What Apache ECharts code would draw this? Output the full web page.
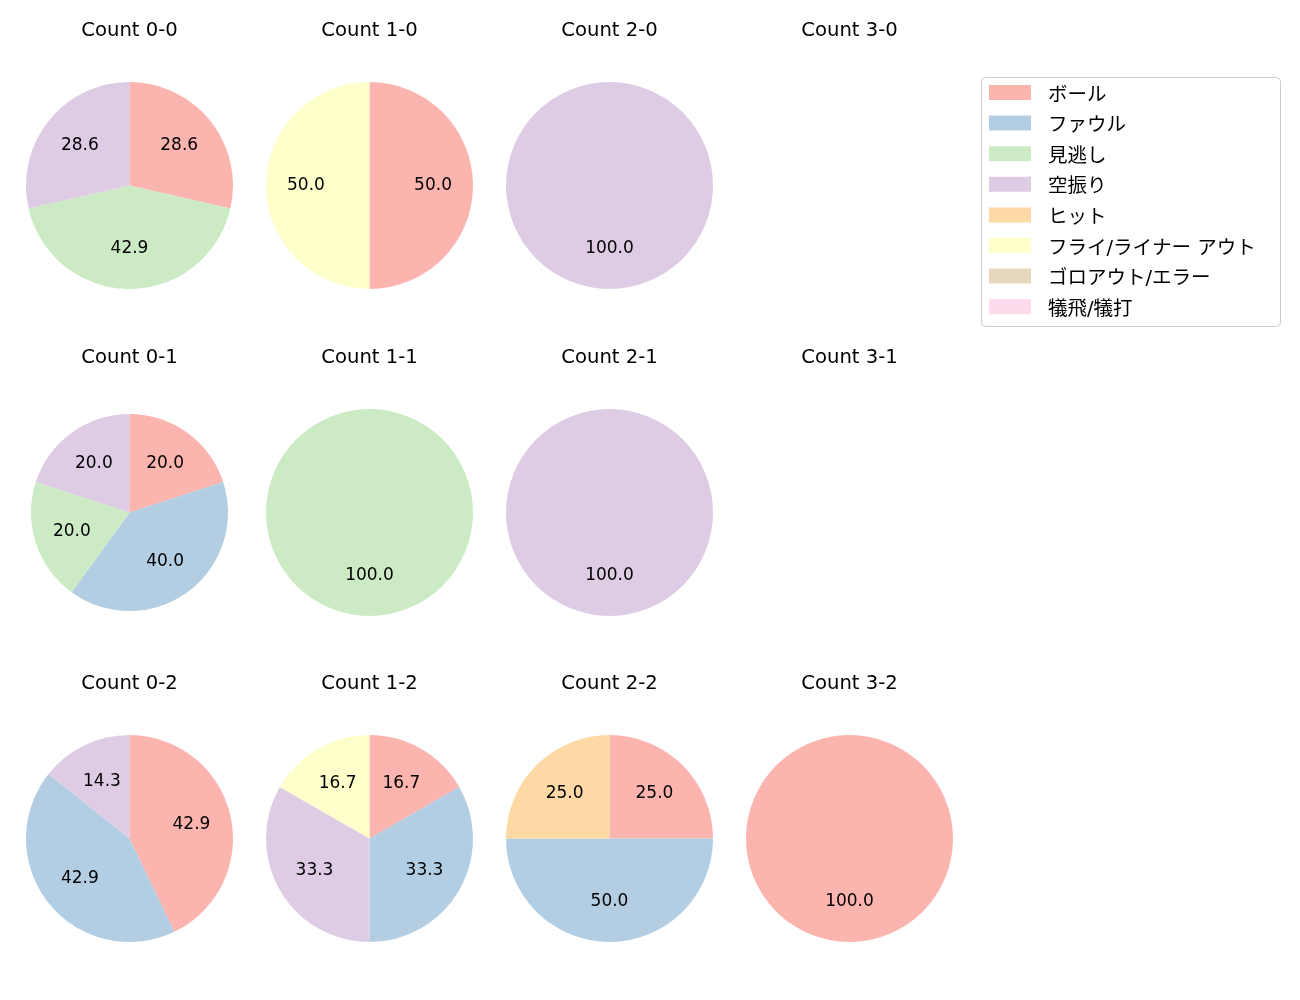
<!DOCTYPE html>
<html>
<head>
<meta charset="utf-8">
<script src="https://cdn.jsdelivr.net/npm/echarts@6/dist/echarts.min.js"></script>
<style>
html,body{margin:0;padding:0;background:#fff;}
#chart{width:1300px;height:1000px;}
</style>
</head>
<body>
<div id="chart"></div>
<script>
const categories = ['ボール','ファウル','見逃し','空振り','ヒット','フライ/ライナー アウト','ゴロアウト/エラー','犠飛/犠打'];
const palette = ['#fbb4ae','#b3cde3','#ccebc5','#decbe4','#fed9a6','#ffffcc','#e5d8bd','#fddaec'];
const countNames = ['0-0','1-0','2-0','3-0','0-1','1-1','2-1','3-1','0-2','1-2','2-2','3-2'];
const v00 = [28.6, 0, 42.9, 28.6, 0, 0, 0, 0];
const v10 = [50.0, 0, 0, 0, 0, 50.0, 0, 0];
const v20 = [0, 0, 0, 100.0, 0, 0, 0, 0];
const v30 = [];
const v01 = [20.0, 40.0, 20.0, 20.0, 0, 0, 0, 0];
const v11 = [0, 0, 100.0, 0, 0, 0, 0, 0];
const v21 = [0, 0, 0, 100.0, 0, 0, 0, 0];
const v31 = [];
const v02 = [42.9, 42.9, 0, 14.3, 0, 0, 0, 0];
const v12 = [16.7, 33.3, 0, 33.3, 0, 16.7, 0, 0];
const v22 = [25.0, 50.0, 0, 0, 25.0, 0, 0, 0];
const v32 = [100.0, 0, 0, 0, 0, 0, 0, 0];
const countValues = [v00, v10, v20, v30, v01, v11, v21, v31, v02, v12, v22, v32];

const FONT = '"DejaVu Sans", "Noto Sans CJK JP", sans-serif';
const colX = [129.5, 369.5, 609.5, 849.5];
const rowY = [185.5, 512.5, 838.5];
const titleY = [30.5, 357.5, 683.5];

const graphics = [];
const series = [];
countNames.forEach((name, i) => {
  const col = i % 4, row = Math.floor(i / 4);
  const cx = colX[col], cy = rowY[row];
  graphics.push({
    type: 'text', x: cx, y: titleY[row], silent: true,
    style: {text: 'Count ' + name, align: 'center', verticalAlign: 'middle',
            font: '19.6px ' + FONT, fill: '#000'}
  });
  const vals = countValues[i];
  if (!vals.length) return;
  const r = name === '0-1' ? 98.5 : 103.5;
  const data = [];
  vals.forEach((v, k) => {
    if (v > 0) data.push({name: categories[k], value: v, itemStyle: {color: palette[k]}});
  });
  series.push({
    type: 'pie', center: [cx, cy], radius: [0, r], startAngle: 90, clockwise: true,
    silent: true, label: {show: false}, labelLine: {show: false},
    emphasis: {disabled: true}, data: data
  });
  series.push({
    type: 'pie', center: [cx, cy], radius: [0, 1.17 * r], startAngle: 90, clockwise: true,
    silent: true, legendHoverLink: false,
    itemStyle: {color: 'rgba(0,0,0,0)'},
    label: {show: true, position: 'inside', fontFamily: FONT, fontSize: 17, color: '#000',
            formatter: p => p.value.toFixed(1)},
    labelLine: {show: false}, emphasis: {disabled: true},
    data: data.map(d => ({name: d.name + ' ', value: d.value, itemStyle: {color: 'rgba(0,0,0,0)'}}))
  });
});
// legend provider (invisible) with all categories
series.push({
  type: 'pie', center: [-100, -100], radius: [0, 0], silent: true,
  label: {show: false}, labelLine: {show: false},
  data: categories.map((c, k) => ({name: c, value: 1, itemStyle: {color: palette[k]}}))
});
graphics.push({
  type: 'rect', silent: true, z: -1,
  shape: {x: 981.5, y: 77.5, width: 299, height: 249, r: 4},
  style: {fill: '#fff', stroke: '#cccccc', lineWidth: 1}
});

const chart = echarts.init(document.getElementById('chart'));
chart.setOption({
  animation: false,
  graphic: graphics,
  legend: {
    orient: 'vertical', left: 989, top: 85,
    data: categories,
    itemWidth: 42, itemHeight: 21, itemGap: 9.6,
    padding: 0,
    icon: 'path://M0,0H42V15H0Z M0,21H0.05V21Z', selectedMode: false,
    textStyle: {fontFamily: FONT, fontSize: 19.5, color: '#000', padding: [0, 0, 0, 12]}
  },
  series: series
});
</script>
</body>
</html>
